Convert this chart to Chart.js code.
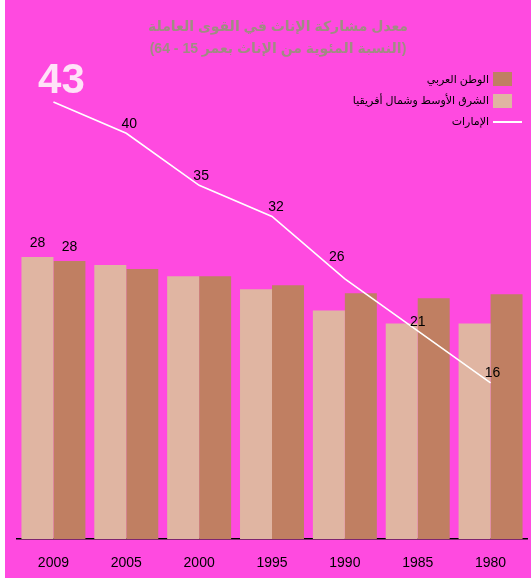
<!DOCTYPE html>
<html lang="ar">
<head>
  <meta charset="UTF-8">
  <title>معدل مشاركة الإناث في القوى العاملة</title>
  <script src="https://cdn.jsdelivr.net/npm/chart.js@4.4.1/dist/chart.umd.min.js"></script>
  <style>
    html, body { margin: 0; padding: 0; background: #ffffff; }
    #wrap { position: absolute; left: 5px; top: 0; width: 526px; height: 578px; background: #ff4ae0; }
  </style>
</head>
<body>
<div id="wrap"><canvas id="myChart" width="526" height="578"></canvas></div>
<script>
    // years, newest first
    const years = ['2009', '2005', '2000', '1995', '1990', '1985', '1980'];
    const menaValues = [28.0, 27.2, 26.1, 24.8, 22.7, 21.4, 21.4];
    const arabValues = [27.6, 26.8, 26.1, 25.2, 24.4, 23.9, 24.3];
    const uaeValues = [43, 40, 35, 32, 26, 21, 16];

    const titleLines = ['معدل مشاركة الإناث في القوى العاملة', '(النسبة المئوية من الإناث بعمر 15 - 64)'];
    const arabLabel = 'الوطن العربي';
    const menaLabel = 'الشرق الأوسط وشمال أفريقيا';
    const uaeLabel = 'الإمارات';

    // where each number sits relative to its point on the line
    const lineLabelShift = [[8, -21], [3, -9], [2, -9], [4, -9], [-8, -22], [0, -9], [2, -10]];

    const darkBar = '#c07f62';
    const lightBar = '#e0b5a2';
    const fontFamily = 'Arial, "Liberation Sans", "DejaVu Sans", sans-serif';

    const headerAndKey = {
        id: 'headerAndKey',
        afterDraw: (chart) => {
            const ctx = chart.ctx;
            ctx.save();
            ctx.direction = 'rtl';
            ctx.textBaseline = 'middle';

            // title
            ctx.fillStyle = '#a08c82';
            ctx.font = 'bold 14px ' + fontFamily;
            ctx.textAlign = 'center';
            ctx.fillText(titleLines[0], 273, 27);
            ctx.fillText(titleLines[1], 273, 49);

            // key, right aligned
            ctx.font = '11px ' + fontFamily;
            ctx.fillStyle = '#000';
            ctx.textAlign = 'right';
            const textRight = 484;
            ctx.fillText(arabLabel, textRight, 80);
            ctx.fillText(menaLabel, textRight, 101);
            ctx.fillText(uaeLabel, textRight, 122);

            ctx.fillStyle = darkBar;
            ctx.fillRect(488, 72, 19, 14);
            ctx.fillStyle = lightBar;
            ctx.fillRect(488, 94, 19, 14);
            ctx.strokeStyle = '#ffffff';
            ctx.lineWidth = 2;
            ctx.beginPath();
            ctx.moveTo(488, 122);
            ctx.lineTo(517, 122);
            ctx.stroke();
            ctx.restore();
        }
    };

    const valueLabels = {
        id: 'valueLabels',
        afterDatasetsDraw: (chart) => {
            const ctx = chart.ctx;
            ctx.save();
            ctx.textAlign = 'center';
            ctx.textBaseline = 'middle';

            // only the 2009 bars carry numbers
            [0, 1].forEach((di) => {
                const bar = chart.getDatasetMeta(di).data[0];
                const v = chart.data.datasets[di].data[0];
                ctx.font = '14px ' + fontFamily;
                ctx.fillStyle = '#000';
                ctx.fillText(Math.round(v), bar.x, bar.y - 14);
            });

            const pts = chart.getDatasetMeta(2).data;
            pts.forEach((p, i) => {
                const s = lineLabelShift[i];
                if (i === 0) {
                    ctx.font = 'bold 42px ' + fontFamily;
                    ctx.fillStyle = '#ffe2f8';
                } else {
                    ctx.font = '14px ' + fontFamily;
                    ctx.fillStyle = '#000';
                }
                ctx.fillText(uaeValues[i], p.x + s[0], p.y + s[1]);
            });
            ctx.restore();
        }
    };

    const ctx = document.getElementById('myChart');
    const myChart = new Chart(ctx, {
        type: 'bar',
        data: {
            labels: years,
            datasets: [
                {
                    label: menaLabel,
                    data: menaValues,
                    backgroundColor: lightBar,
                    yAxisID: 'y',
                    order: 2
                },
                {
                    label: arabLabel,
                    data: arabValues,
                    backgroundColor: darkBar,
                    yAxisID: 'y',
                    order: 2
                },
                {
                    type: 'line',
                    label: uaeLabel,
                    data: uaeValues,
                    borderColor: '#ffffff',
                    borderWidth: 1.6,
                    pointRadius: 0,
                    tension: 0,
                    fill: false,
                    yAxisID: 'y2',
                    order: 1
                }
            ]
        },
        options: {
            responsive: false,
            animation: false,
            devicePixelRatio: 1,
            layout: { padding: { left: 12, right: 4, top: 35.5, bottom: 0 } },
            datasets: {
                bar: { categoryPercentage: 0.878, barPercentage: 1 }
            },
            plugins: {
                legend: { display: false },
                title: { display: false },
                tooltip: { enabled: false }
            },
            scales: {
                x: {
                    z: 1,
                    grid: { display: false, drawTicks: false },
                    border: { display: true, color: '#000', width: 1.5 },
                    ticks: {
                        color: '#000',
                        padding: 16,
                        font: { family: fontFamily, size: 14 }
                    },
                    afterFit: (scale) => { scale.height = 39; }
                },
                y: { display: false, min: 0, max: 50 },
                y2: { display: false, min: 1, max: 49.4 }
            }
        },
        plugins: [headerAndKey, valueLabels]
    });
</script>
</body>
</html>
